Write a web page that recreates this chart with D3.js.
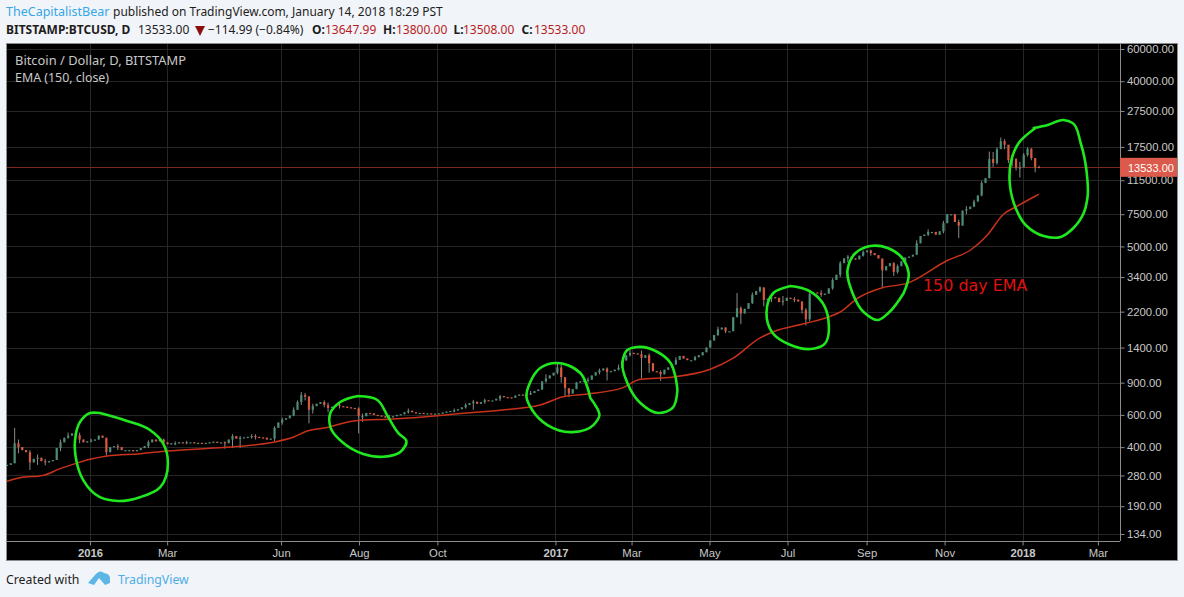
<!DOCTYPE html>
<html>
<head>
<meta charset="utf-8">
<title>BTCUSD EMA</title>
<script src="https://cdn.jsdelivr.net/npm/d3@7"></script>
<style>
    html, body { margin: 0; padding: 0; background: #f1f4f8; overflow: hidden; }
    svg { display: block; }
    text { white-space: pre; }
    .head { font-family: "Noto Sans", sans-serif; font-size: 12px; fill: #1d1d1d; }
    .tick text { font-family: "Liberation Sans", sans-serif; font-size: 11.3px; fill: #c8c8c8; }
</style>
</head>
<body>
<div id="chart"></div>
<script>
//Closing price, one candle per three trading days
const closes = [
    320, 326, 420, 400, 385, 375, 330, 345, 350, 335, 330, 335, 340, 395, 425, 450, 462, 475, 465, 440,
    425, 430, 435, 440, 462, 450, 375, 400, 405, 400, 385, 385, 385, 380, 385, 395, 405, 425, 440, 430,
    440, 425, 415, 420, 420, 425, 422, 425, 425, 420, 422, 420, 422, 425, 428, 425, 425, 420, 440, 460,
    445, 450, 452, 455, 460, 455, 452, 450, 440, 445, 510, 545, 565, 575, 595, 640, 705, 770, 755, 640,
    670, 690, 705, 680, 655, 665, 680, 670, 665, 660, 655, 650, 590, 590, 615, 612, 600, 595, 590, 580,
    582, 590, 600, 605, 620, 632, 620, 612, 615, 610, 612, 610, 610, 612, 618, 625, 630, 635, 645, 660,
    680, 695, 708, 690, 705, 722, 720, 720, 735, 760, 750, 748, 745, 765, 775, 770, 775, 790, 810, 825,
    915, 950, 985, 1020, 1090, 965, 840, 785, 830, 905, 915, 920, 935, 985, 1025, 1050, 1075, 1030, 1040, 1060,
    1085, 1190, 1270, 1310, 1300, 1290, 1230, 1270, 1150, 1040, 1030, 1000, 1060, 1090, 1130, 1200, 1260, 1220, 1195, 1195,
    1240, 1270, 1320, 1400, 1530, 1640, 1760, 1800, 1720, 1720, 2050, 2300, 2150, 2280, 2450, 2720, 2850, 2990, 2550, 2590,
    2640, 2620, 2480, 2520, 2620, 2580, 2560, 2500, 2250, 2000, 2750, 2800, 2780, 2730, 2760, 2950, 3280, 3500, 4050, 4300,
    4400, 4300, 4250, 4450, 4650, 4750, 4600, 4480, 4300, 3700, 3900, 4050, 3620, 3900, 4150, 4350, 4400, 4500, 5200, 5700,
    5800, 6000, 6000, 5800, 6050, 6700, 7500, 7500, 6800, 6500, 7850, 8000, 8250, 8800, 9500, 11100, 11800, 15000, 14300, 17000,
    18800, 18000, 14800, 15000, 13500, 13500, 15800, 17100, 15200, 13600, 13533
];

//The candles with a visible wick
const wickBars = [2, 3, 6, 8, 19, 26, 41, 57, 59, 61, 65, 70, 76, 77, 78, 79, 80, 84, 92, 93, 122, 125, 144, 145, 146, 147, 157, 166, 168, 171, 191, 192, 197, 198, 208, 209, 210, 218, 229, 232, 249, 257, 260, 262, 265, 269, 270,
    10, 14, 16, 22, 29, 37, 44, 47, 64, 72, 75, 83, 87, 100, 105, 117, 120, 129, 137, 141, 152, 155, 160, 163, 175, 180, 186, 188, 195, 200, 203, 206, 213, 216, 220, 224, 226, 233, 238, 241, 245, 251, 253, 255, 258, 259, 261, 263, 264, 266, 267, 268];
const wickHighs = [510, 440, 385, 365, 480, 450, 445, 430, 470, 460, 470, 520, 720, 800, 790, 760, 690, 700, 660, 610, 725, 735, 1160, 1130, 960, 830, 1090, 1350, 1300, 1050, 2780, 2350, 3020, 2950, 2500, 2300, 2900, 4150, 4200, 4100, 7000, 16500, 19700, 17500, 14500, 15000, 13800,
    345, 440, 480, 445, 415, 435, 430, 432, 470, 580, 660, 720, 695, 600, 650, 650, 695, 770, 810, 1000, 960, 1075, 1130, 1360, 1240, 1260, 1820, 1810, 2800, 2730, 2680, 2640, 2880, 3350, 4480, 4750, 4800, 3980, 5400, 6200, 6900, 8300, 9000, 11400, 16400, 17400, 19300, 16000, 15200, 16200, 17400, 17200];
const wickLows = [340, 370, 300, 320, 420, 360, 405, 392, 395, 395, 440, 430, 640, 680, 720, 540, 610, 620, 475, 550, 640, 690, 1000, 900, 760, 750, 925, 950, 1020, 920, 2100, 1880, 2800, 2350, 2150, 1850, 1950, 3400, 3000, 3450, 5550, 11800, 17500, 14300, 11900, 12700, 13508,
    318, 380, 445, 425, 385, 395, 410, 415, 445, 530, 590, 660, 650, 570, 610, 620, 650, 715, 770, 900, 900, 1000, 1050, 1250, 1130, 1190, 1620, 1680, 2420, 2480, 2380, 2480, 2650, 2900, 4100, 4400, 4450, 3550, 4500, 5700, 5900, 7500, 8200, 9400, 13600, 14000, 17000, 13700, 13000, 13800, 15500, 14800];

//EMA (150, close), read at these bars
const emaBars = [0, 3.4, 9.4, 13.9, 18.3, 21.7, 26.2, 34.8, 41.9, 53, 61, 69.6, 75, 78.5, 83.8, 90.6, 101, 108, 112.6, 118.6, 129, 139.5, 145.5, 151.8, 161, 165.7, 174, 184, 190, 197, 200.5, 209, 214.7, 218, 222.5, 229, 235.6, 246, 252.1, 256.5, 260.7, 263.9, 268.6, 270];
const emaValues = [260, 272, 280, 305, 327, 343, 358, 368, 381, 394, 404, 425, 454, 490, 512, 556, 570, 583, 594, 610, 637, 680, 754, 780, 843, 940, 965, 1065, 1225, 1580, 1710, 1900, 2050, 2190, 2600, 2970, 3150, 4190, 4780, 5772, 7500, 8213, 9315, 9660];

//Axis labels
const priceTicks = [60000, 40000, 27500, 17500, 11500, 7500, 5000, 3400, 2200, 1400, 900, 600, 400, 280, 190, 134];
const timeTicks = [21.7, 41.9, 71.7, 92.1, 112.6, 143.5, 163.4, 183.8, 204.2, 224.9, 245.3, 265.7, 285.4];
const timeLabels = ["2016", "Mar", "Jun", "Aug", "Oct", "2017", "Mar", "May", "Jul", "Sep", "Nov", "2018", "Mar"];
const lastPrice = 13533;

//Hand drawn loops, as [bar, price]
const loopA = [[24.3, 614], [21.7, 614], [19.1, 549], [17.8, 437], [18.1, 341], [19.9, 265], [24.3, 213], [29.1, 203], [34.8, 213], [40.1, 242], [42.1, 328], [40.8, 421], [37.4, 496], [31.4, 556], [24.3, 614]];
const loopB = [[91.9, 761], [96.9, 724], [99.7, 585], [102.4, 477], [104.5, 432], [102.9, 376], [98.4, 354], [93.2, 367], [88, 421], [84.6, 515], [84.6, 614], [87.2, 706], [91.9, 761]];
const loopC = [[152.6, 742], [150, 1017], [146.6, 1124], [144, 1153], [139.5, 1083], [136.9, 908], [135.9, 752], [137.4, 638], [141.4, 528], [147.9, 483], [153.4, 528], [155, 599], [153.9, 679], [152.6, 742]];
const loopD = [[175.4, 821], [174.9, 967], [173.6, 1153], [170.2, 1324], [164.9, 1410], [162.3, 1358], [161, 1153], [162.3, 897], [165.7, 697], [170.4, 614], [174.1, 654], [175.4, 821]];
const loopE = [[205, 3039], [200.5, 2782], [198.7, 2163], [200.3, 1682], [205, 1446], [210.2, 1375], [213.6, 1446], [214.9, 1981], [213.4, 2453], [209.4, 2889], [205, 3039]];
const loopF = [[234.6, 2782], [235.9, 3578], [234.6, 4215], [230.4, 4902], [225.9, 5027], [222, 4603], [219.9, 3716], [221.2, 2782], [224.1, 2191], [228, 1981], [230.6, 2163], [234.6, 2782]];
const loopG = [[268.6, 22198], [272.3, 23054], [276.4, 24549], [278.8, 23640], [280.9, 18379], [282.5, 12600], [282.7, 9315], [281.7, 7616], [279, 6306], [275.7, 5630], [271.2, 5701], [266.5, 6549], [263.4, 8637], [262.3, 11537], [262.6, 14289], [264.7, 18379], [269.1, 22198]];
const loops = [loopA, loopB, loopC, loopD, loopE, loopF, loopG];

//Setup Dimensions
const width = 1184;
const height = 597;
const plot = { left: 7, right: 1120, top: 44, bottom: 541 };

const svg = d3.select("#chart")
    .append("svg")
    .attr("width", width)
    .attr("height", height);

const x = d3.scaleLinear().domain([0, closes.length - 1]).range([7, 1039]);
const y = d3.scaleLog().domain([134, 60000]).range([534, 49]);

//Black panel
svg.append("rect")
    .attr("x", 6.5).attr("y", 43.5)
    .attr("width", 1171).attr("height", 517)
    .attr("fill", "#000")
    .attr("stroke", "#8c8c8c");

svg.append("defs").append("clipPath").attr("id", "plot-clip")
    .append("rect")
    .attr("x", plot.left).attr("y", plot.top)
    .attr("width", plot.right - plot.left).attr("height", plot.bottom - plot.top);

//Grid
const grid = svg.append("g").attr("stroke", "#262626").attr("stroke-width", 1);
grid.selectAll(".gy").data(priceTicks).enter().append("line")
    .attr("x1", plot.left).attr("x2", plot.right)
    .attr("y1", d => Math.round(y(d)) + 0.5).attr("y2", d => Math.round(y(d)) + 0.5);
grid.selectAll(".gx").data(timeTicks).enter().append("line")
    .attr("y1", plot.top).attr("y2", plot.bottom)
    .attr("x1", d => Math.round(x(d)) + 0.5).attr("x2", d => Math.round(x(d)) + 0.5);

//Axes
const yAxis = d3.axisRight(y).tickValues(priceTicks).tickFormat(d => d.toFixed(2)).tickSize(4).tickPadding(2.5);
const gy = svg.append("g").attr("transform", `translate(${plot.right + 0.5},0)`).call(yAxis);
const xAxis = d3.axisBottom(x).tickValues(timeTicks).tickFormat((d, i) => timeLabels[i]).tickSize(4).tickPadding(3);
const gx = svg.append("g").attr("transform", `translate(0,${plot.bottom + 0.5})`).call(xAxis);
gy.select(".domain").attr("stroke", "#8c8c8c").attr("d", `M0,${plot.top}V${plot.bottom}`);
gx.select(".domain").attr("stroke", "#8c8c8c").attr("d", `M${plot.left},0H${plot.right}`);
gy.selectAll(".tick line").attr("stroke", "#8c8c8c");
gx.selectAll(".tick line").attr("stroke", "#8c8c8c");
gx.selectAll(".tick text").style("font-weight", (d, i) => /^\d+$/.test(timeLabels[i]) ? "bold" : "normal");

const chart = svg.append("g").attr("clip-path", "url(#plot-clip)");

//Last price line
chart.append("line")
    .attr("x1", plot.left).attr("x2", plot.right)
    .attr("y1", Math.round(y(lastPrice)) + 0.5).attr("y2", Math.round(y(lastPrice)) + 0.5)
    .attr("stroke", "#7d2a1e")
    .attr("stroke-width", 1);

//Candles
const candles = closes.map((c, i) => {
    const open = i === 0 ? c : closes[i - 1];
    const w = wickBars.indexOf(i);
    return {
        bar: i,
        open: open,
        close: c,
        high: w >= 0 ? wickHighs[w] : Math.max(open, c),
        low: w >= 0 ? wickLows[w] : Math.min(open, c)
    };
});
const candle = chart.selectAll(".candle").data(candles).enter().append("g").attr("class", "candle");
candle.append("line")
    .attr("x1", d => x(d.bar)).attr("x2", d => x(d.bar))
    .attr("y1", d => y(d.high)).attr("y2", d => y(d.low))
    .attr("stroke", "#8a8a8a")
    .attr("stroke-width", 1);
candle.append("rect")
    .attr("x", d => x(d.bar) - 1.1)
    .attr("width", 2.2)
    .attr("y", d => y(Math.max(d.open, d.close)))
    .attr("height", d => Math.max(1.2, Math.abs(y(d.open) - y(d.close))))
    .attr("fill", d => d.close >= d.open ? "#4d8c78" : "#d9583f");

//EMA line
const emaLine = d3.line()
    .x(d => x(d[0]))
    .y(d => y(d[1]))
    .curve(d3.curveMonotoneX);
chart.append("path")
    .datum(d3.zip(emaBars, emaValues))
    .attr("d", emaLine)
    .attr("fill", "none")
    .attr("stroke", "#c8321a")
    .attr("stroke-width", 1.5);

//Green loops
const loopLine = d3.line()
    .x(d => x(d[0]))
    .y(d => y(d[1]))
    .curve(d3.curveCatmullRom.alpha(1));
chart.selectAll(".loop").data(loops).enter().append("path")
    .attr("class", "loop")
    .attr("d", loopLine)
    .attr("fill", "none")
    .attr("stroke", "#1fe81f")
    .attr("stroke-width", 2.6)
    .attr("stroke-linecap", "round");

chart.append("text")
    .attr("x", 923).attr("y", 291)
    .attr("font-family", "DejaVu Sans")
    .attr("font-size", 15.9)
    .attr("fill", "#e01010")
    .text("150 day EMA");

//Last price label
svg.append("rect")
    .attr("x", plot.right).attr("y", y(lastPrice) - 9.5)
    .attr("width", 57).attr("height", 19)
    .attr("fill", "#dc5a4b");
svg.append("text")
    .attr("x", plot.right + 8).attr("y", y(lastPrice) + 4.5)
    .attr("font-family", "Liberation Sans")
    .attr("font-size", 11)
    .attr("fill", "#fff")
    .text(lastPrice.toFixed(2));

//Legend in the panel
const legend = svg.append("g").attr("font-family", "Noto Sans").attr("fill", "#c8c8c8");
legend.append("text").attr("x", 15).attr("y", 64.5).attr("font-size", 12.9).text("Bitcoin / Dollar, D, BITSTAMP");
legend.append("text").attr("x", 15).attr("y", 81.5).attr("font-size", 12.4).text("EMA (150, close)");

//Header
const head = svg.append("g");
const headText = (px, py, str, fill, weight) => head.append("text")
    .attr("class", "head")
    .attr("x", px).attr("y", py)
    .style("fill", fill || "#1d1d1d")
    .style("font-weight", weight || "normal")
    .text(str);
headText(6, 16, "TheCapitalistBear", "#37a7e8").style("font-size", "12.5px");
headText(113, 16, "published on TradingView.com, January 14, 2018 18:29 PST");
headText(6, 34, "BITSTAMP:BTCUSD, D", null, "bold");
headText(138, 34, "13533.00");
head.append("path").attr("d", "M195,26H205L200,36Z").attr("fill", "#8b0f0f");
headText(208, 34, "\u2212114.99 (\u22120.84%)");
const quoteKeys = ["O:", "H:", "L:", "C:"];
const quoteValues = ["13647.99", "13800.00", "13508.00", "13533.00"];
const quoteKeyX = [312, 383, 453.5, 521.6];
const quoteValueX = [325, 396, 463, 534];
quoteKeys.forEach((k, i) => {
    headText(quoteKeyX[i], 34, k, null, "bold");
    headText(quoteValueX[i], 34, quoteValues[i], "#b71c1c");
});

//Footer
headText(6, 584, "Created with").style("font-size", "12.3px");
svg.append("path")
    .attr("d", "M88,583 L95,575 Q100,569 104,573 Q111,574 110,580 L110,583 L105,585 L99,578 L94,585 Z")
    .attr("fill", "#5cb6e6");
headText(118, 584, "TradingView", "#4eaee6").style("font-size", "12.3px");
</script>
</body>
</html>
